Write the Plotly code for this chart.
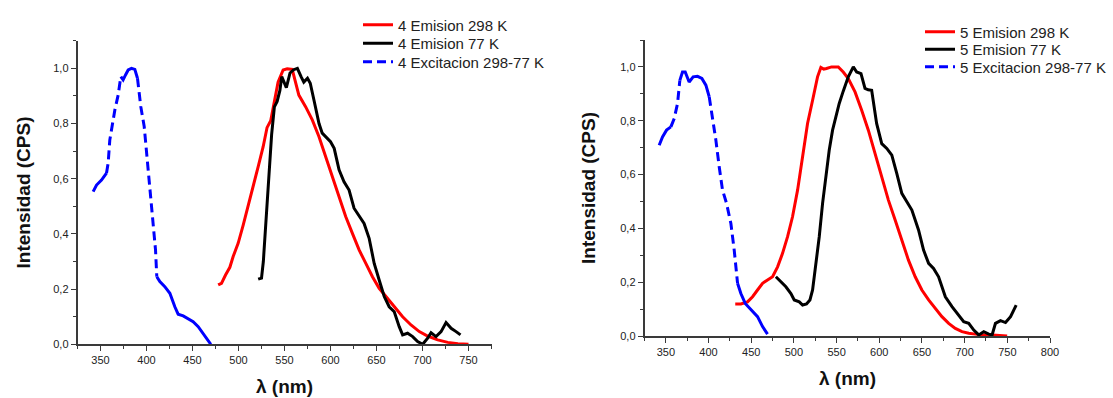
import plotly.graph_objects as go

# ---------------- data ----------------
# Compound 4
ex4_nm = [342.0, 345.7, 351.1, 356.5, 358.3, 360.1, 365.6, 369.2, 372.1, 374.6, 377.2, 380.1, 383.7,
          387.3, 390.2, 393.8, 397.5, 401.8, 404.7, 407.2, 409.8, 411.2, 414.5, 419.9, 425.4, 430.8,
          434.4, 439.9, 445.3, 450.7, 456.2, 461.6, 465.2, 469.9]
ex4_int = [0.553, 0.577, 0.595, 0.620, 0.656, 0.740, 0.849, 0.903, 0.970, 0.958, 0.976, 0.994, 1.0,
           0.996, 0.964, 0.861, 0.789, 0.632, 0.535, 0.414, 0.342, 0.245, 0.227, 0.209, 0.185, 0.136,
           0.109, 0.103, 0.091, 0.082, 0.064, 0.040, 0.022, 0.0]

em4_298_nm = [477.9, 481.5, 485.9, 490.6, 494.2, 499.6, 505.1, 510.5, 515.9, 521.4, 526.8, 531.0, 535.0,
              539.0, 543.0, 548.5, 552.9, 558.4, 562.0, 565.6, 572.9, 580.2, 587.5, 594.7, 602.0, 609.3,
              616.5, 623.8, 631.1, 638.4, 645.6, 652.9, 660.2, 669.3, 678.4, 687.5, 696.5, 705.6, 716.5,
              727.5, 738.4, 750.0]
em4_298_int = [0.215, 0.221, 0.251, 0.279, 0.318, 0.366, 0.432, 0.499, 0.571, 0.644, 0.716, 0.785, 0.810,
               0.880, 0.950, 0.994, 0.998, 0.996, 0.946, 0.903, 0.861, 0.813, 0.752, 0.680, 0.607, 0.535,
               0.463, 0.402, 0.342, 0.293, 0.245, 0.203, 0.173, 0.136, 0.100, 0.070, 0.046, 0.030, 0.016,
               0.007, 0.002, 0.0]

em4_77_nm = [521.4, 525.0, 527.0, 530.0, 533.0, 536.0, 539.0, 542.0, 545.0, 547.0, 552.0, 556.0, 560.0,
             564.0, 568.0, 571.0, 575.0, 578.0, 582.0, 587.5, 591.0, 594.7, 600.0, 604.0, 609.3, 614.7,
             620.2, 625.6, 631.1, 636.5, 642.0, 647.5, 652.9, 658.4, 663.8, 669.3, 674.7, 678.4, 683.8,
             689.3, 694.7, 700.2, 705.6, 709.3, 714.7, 720.2, 725.6, 731.1, 736.5, 741.3]
em4_77_int = [0.236, 0.240, 0.300, 0.450, 0.620, 0.760, 0.860, 0.880, 0.920, 0.970, 0.930, 0.983, 0.995,
              1.0, 0.970, 0.950, 0.964, 0.946, 0.885, 0.800, 0.765, 0.752, 0.734, 0.710, 0.632, 0.589,
              0.559, 0.493, 0.463, 0.438, 0.384, 0.293, 0.233, 0.173, 0.136, 0.118, 0.064, 0.034, 0.040,
              0.028, 0.010, 0.0, 0.022, 0.042, 0.028, 0.046, 0.079, 0.058, 0.046, 0.034]

# Compound 5
ex5_nm = [342.2, 346.1, 350.8, 355.9, 359.8, 363.7, 366.4, 369.5, 372.7, 377.3, 382.0, 387.1, 392.2,
          396.9, 400.8, 404.7, 408.6, 412.5, 416.4, 421.1, 426.2, 430.1, 434.0, 437.9, 443.0, 449.6,
          457.4, 463.3, 469.1]
ex5_int = [0.709, 0.740, 0.765, 0.777, 0.808, 0.864, 0.950, 0.981, 0.981, 0.944, 0.963, 0.965, 0.957,
           0.932, 0.889, 0.814, 0.728, 0.629, 0.542, 0.493, 0.418, 0.319, 0.196, 0.158, 0.121, 0.097,
           0.072, 0.035, 0.007]

em5_298_nm = [431.3, 437.9, 445.7, 451.6, 457.4, 463.3, 469.1, 475.0, 480.9, 486.7, 492.6, 498.4, 504.3,
              510.2, 516.0, 521.9, 527.7, 531.6, 535.0, 538.2, 544.1, 552.0, 557.8, 563.7, 571.6, 579.4,
              587.2, 595.1, 602.9, 610.7, 618.6, 626.4, 634.2, 642.1, 649.9, 657.8, 665.6, 673.4, 681.3,
              689.1, 696.9, 704.8, 712.6, 720.5, 732.2, 749.8]
em5_298_int = [0.119, 0.119, 0.127, 0.146, 0.171, 0.196, 0.208, 0.220, 0.257, 0.307, 0.369, 0.443, 0.542,
               0.666, 0.790, 0.876, 0.963, 0.998, 0.992, 0.994, 1.0, 1.0, 0.981, 0.957, 0.907, 0.839,
               0.765, 0.678, 0.592, 0.505, 0.431, 0.356, 0.282, 0.220, 0.171, 0.134, 0.103, 0.072, 0.047,
               0.028, 0.016, 0.010, 0.007, 0.004, 0.004, 0.0]

em5_77_nm = [478.9, 484.8, 490.6, 496.5, 500.4, 506.3, 510.2, 514.8, 518.8, 521.9, 525.8, 529.7, 533.6,
             537.5, 541.4, 545.3, 549.2, 553.1, 557.8, 563.7, 569.6, 573.5, 578.6, 583.3, 587.0, 591.1,
             596.9, 602.9, 608.8, 614.7, 620.5, 626.4, 632.3, 638.2, 646.0, 651.9, 657.8, 663.6, 669.5,
             677.4, 685.2, 693.0, 698.9, 704.8, 710.7, 716.5, 722.4, 728.3, 732.2, 736.1, 742.0, 747.9,
             753.8, 760.4]
em5_77_int = [0.220, 0.202, 0.183, 0.158, 0.134, 0.127, 0.115, 0.119, 0.134, 0.171, 0.270, 0.369, 0.493,
              0.592, 0.691, 0.765, 0.814, 0.864, 0.910, 0.963, 1.0, 0.981, 0.975, 0.920, 0.915, 0.913,
              0.790, 0.715, 0.697, 0.672, 0.604, 0.530, 0.499, 0.468, 0.394, 0.319, 0.270, 0.251, 0.220,
              0.146, 0.109, 0.078, 0.053, 0.047, 0.022, 0.004, 0.016, 0.007, 0.004, 0.047, 0.057, 0.050,
              0.072, 0.115]

legend_names_4 = ["4 Emision 298 K", "4 Emision 77 K", "4 Excitacion 298-77 K"]
legend_names_5 = ["5 Emision 298 K", "5 Emision 77 K", "5 Excitacion 298-77 K"]
x_ticks_4 = [350, 400, 450, 500, 550, 600, 650, 700, 750]
x_ticks_5 = [350, 400, 450, 500, 550, 600, 650, 700, 750, 800]
y_ticks = [0.0, 0.2, 0.4, 0.6, 0.8, 1.0]

# nm ranges of the excitation curves drawn with visible dashes (style only)
dash_ranges_4 = [(356.5, 372.1), (390.2, 411.2)]
dash_ranges_5 = [(355.9, 366.4), (400.8, 434.0)]

# ---------------- figure ----------------
W, H = 1113, 398
FONT = "Liberation Sans"
RED, BLACK, BLUE = "#ff0000", "#000000", "#0000ff"
AXC = "#3a3a3a"
LW = 3


def split(xs, ys, ranges):
    def inside(v):
        return any(lo <= v <= hi for lo, hi in ranges)
    def strictly(v):
        return any(lo < v < hi for lo, hi in ranges)
    dashed = [y if inside(x) else None for x, y in zip(xs, ys)]
    solid = [None if strictly(x) else y for x, y in zip(xs, ys)]
    return solid, dashed


fig = go.Figure()

panels = [
    dict(xa="x", ya="y", names=legend_names_4, legs=["legend", "legend2", "legend3"],
         em298=(em4_298_nm, em4_298_int), em77=(em4_77_nm, em4_77_int),
         ex=(ex4_nm, ex4_int), dr=dash_ranges_4),
    dict(xa="x2", ya="y2", names=legend_names_5, legs=["legend4", "legend5", "legend6"],
         em298=(em5_298_nm, em5_298_int), em77=(em5_77_nm, em5_77_int),
         ex=(ex5_nm, ex5_int), dr=dash_ranges_5),
]

for p in panels:
    fig.add_trace(go.Scatter(x=p["em298"][0], y=p["em298"][1], mode="lines", name=p["names"][0],
                             line=dict(color=RED, width=LW), xaxis=p["xa"], yaxis=p["ya"],
                             legend=p["legs"][0]))
    fig.add_trace(go.Scatter(x=p["em77"][0], y=p["em77"][1], mode="lines", name=p["names"][1],
                             line=dict(color=BLACK, width=LW), xaxis=p["xa"], yaxis=p["ya"],
                             legend=p["legs"][1]))
    solid, dashed = split(p["ex"][0], p["ex"][1], p["dr"])
    fig.add_trace(go.Scatter(x=p["ex"][0], y=solid, mode="lines", showlegend=False,
                             line=dict(color=BLUE, width=LW), xaxis=p["xa"], yaxis=p["ya"],
                             connectgaps=False, hoverinfo="skip"))
    fig.add_trace(go.Scatter(x=p["ex"][0], y=dashed, mode="lines", name=p["names"][2],
                             line=dict(color=BLUE, width=LW, dash="9px,5px"), xaxis=p["xa"],
                             yaxis=p["ya"], connectgaps=False, legend=p["legs"][2]))

# plot area geometry (pixels)
L1 = (77.5, 491.5, 40.7, 344.3)
L2 = (644.5, 1050.0, 40.0, 336.0)


def dom(a):
    x0, x1, top, bot = a
    return [x0 / W, x1 / W], [(H - bot) / H, (H - top) / H]


d1x, d1y = dom(L1)
d2x, d2y = dom(L2)

tickfont = dict(family=FONT, size=11, color="#222222")
common_x = dict(showline=True, linecolor=AXC, linewidth=1.6, ticks="outside", ticklen=5,
                tickwidth=1.3, tickcolor=AXC, showgrid=False, zeroline=False, tickfont=tickfont,
                tickformat="d", automargin=False,
                minor=dict(ticks="outside", ticklen=3, tickwidth=1.1, tickcolor=AXC, dtick=25,
                           tick0=325, showgrid=False))
common_y = dict(showline=True, linecolor=AXC, linewidth=1.6, ticks="outside", ticklen=5,
                tickwidth=1.3, tickcolor=AXC, showgrid=False, zeroline=False, tickfont=tickfont,
                tickformat=".1f", automargin=False, range=[0, 1.1], tickvals=y_ticks,
                minor=dict(ticks="outside", ticklen=3, tickwidth=1.1, tickcolor=AXC, dtick=0.1,
                           tick0=0, showgrid=False))

fig.update_layout(
    width=W, height=H, margin=dict(l=0, r=0, t=0, b=0), autosize=False,
    paper_bgcolor="white", plot_bgcolor="rgba(0,0,0,0)", separators=",.",
    font=dict(family=FONT, color="#222222"),
    xaxis=dict(common_x, domain=d1x, range=[325, 775], tickvals=x_ticks_4, anchor="y"),
    yaxis=dict(common_y, domain=d1y, anchor="x"),
    xaxis2=dict(common_x, domain=d2x, range=[325, 800], tickvals=x_ticks_5, anchor="y2"),
    yaxis2=dict(common_y, domain=d2y, anchor="x2"),
)

# one legend per entry so the row spacing can follow the reference
leg_rows = {
    "legend": (358, 25), "legend2": (358, 43.5), "legend3": (358, 62),
    "legend4": (920, 32), "legend5": (920, 49.5), "legend6": (920, 67),
}
for name, (px, py) in leg_rows.items():
    fig.update_layout({name: dict(x=px / W, y=(H - py) / H, xanchor="left", yanchor="middle",
                                  bgcolor="rgba(0,0,0,0)", borderwidth=0,
                                  font=dict(family=FONT, size=15, color="#222222"))})

# axis titles
title_font = dict(family=FONT, size=19, color="#111111", weight="bold")
for (x0, x1, top, bot), ytx in ((L1, 23), (L2, 588)):
    fig.add_annotation(text="λ (nm)", xref="paper", yref="paper", x=(x0 + x1) / 2 / W,
                       y=(H - (bot + 42)) / H, showarrow=False, font=title_font,
                       xanchor="center", yanchor="middle")
    fig.add_annotation(text="Intensidad (CPS)", xref="paper", yref="paper", x=ytx / W,
                       y=(H - (top + bot) / 2) / H, showarrow=False, font=title_font,
                       textangle=-90, xanchor="center", yanchor="middle")

fig.write_html("out.html")
